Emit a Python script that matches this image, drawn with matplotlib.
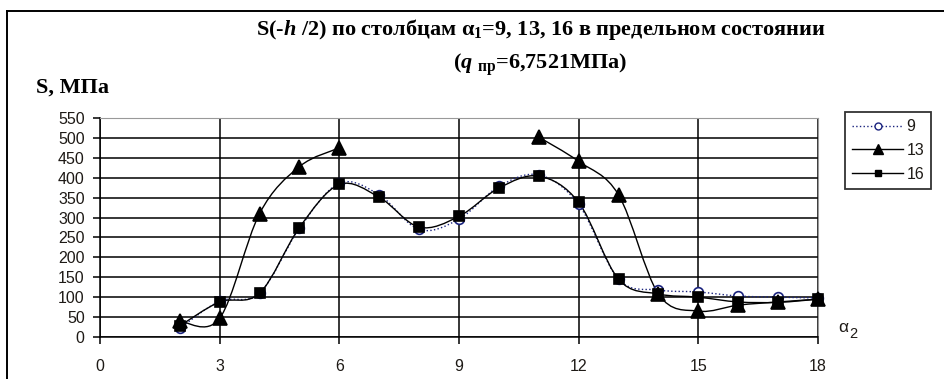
import numpy as np
import matplotlib
matplotlib.use('Agg')
import matplotlib.pyplot as plt
from matplotlib.path import Path
from matplotlib.patches import PathPatch
from matplotlib.lines import Line2D

# column alpha_2 positions and stress values S(-h/2), MPa, for alpha_1 = 9, 13, 16
alpha2 = [2, 3, 4, 5, 6, 7, 8, 9, 10, 11, 12, 13, 14, 15, 16, 17, 18]
s_col9 = [22, 90, 110, 273, 386, 357, 270, 296, 378, 407, 333, 145, 118, 113, 103, 100, 98]
s_col13 = [40, 47, 310, 428, 475, None, None, None, None, 502, 441, 357, 108, 65, 80, 88, 95]
s_col16 = [28, 88, 110, 275, 383, 351, 276, 303, 374, 404, 338, 145, 108, 100, 88, 87, 95]

xticks = [0, 3, 6, 9, 12, 15, 18]
yticks = list(range(0, 551, 50))

plt.rcParams['mathtext.fontset'] = 'custom'
plt.rcParams['mathtext.rm'] = 'Liberation Serif:bold'
plt.rcParams['mathtext.it'] = 'Liberation Serif:italic:bold'
plt.rcParams['mathtext.bf'] = 'Liberation Serif:bold'

serif = ['Liberation Serif', 'DejaVu Serif']
sans = ['Liberation Sans', 'DejaVu Sans']
lblcol = '#1e1a16'


def smooth_path(xs, ys):
    # split into runs without gaps and join each run with cubic Bezier pieces
    verts, codes = [], []
    runs, cur = [], []
    for x, y in zip(xs, ys):
        if y is None:
            if cur:
                runs.append(cur)
            cur = []
        else:
            cur.append((x, y))
    if cur:
        runs.append(cur)
    for run in runs:
        p = np.array(run, dtype=float)
        n = len(p)
        verts.append(p[0]); codes.append(Path.MOVETO)
        for i in range(n - 1):
            p0 = p[i - 1] if i > 0 else p[i]
            p3 = p[i + 2] if i + 2 < n else p[i + 1]
            c1 = p[i] + (p[i + 1] - p0) / 6.0
            c2 = p[i + 1] - (p3 - p[i]) / 6.0
            verts += [c1, c2, p[i + 1]]
            codes += [Path.CURVE4] * 3
    return Path(verts, codes)


fig = plt.figure(figsize=(9.45, 3.79), dpi=100)
# chart area border (left and top edges only fall inside the image)
fx, fy = 7.5 / 945, 1 - 11 / 379
fig.add_artist(Line2D([fx, fx], [0, fy], transform=fig.transFigure, color='black', linewidth=1.4))
fig.add_artist(Line2D([fx, 1], [fy, fy], transform=fig.transFigure, color='black', linewidth=1.4))

ax = fig.add_axes([100 / 945, 42 / 379, 718 / 945, 219 / 379])
ax.set_xlim(0, 18)
ax.set_ylim(0, 550)
ax.set_xticks(xticks)
ax.set_yticks(yticks)
ax.grid(True, color='black', linewidth=1.1)
ax.set_axisbelow(True)
for side in ['top', 'right']:
    ax.spines[side].set_color('#999999')
ax.spines['left'].set_linewidth(1.1)
ax.spines['bottom'].set_linewidth(1.1)
ax.tick_params(direction='out', length=5, width=1.1, labelsize=11.5, labelcolor=lblcol)
ax.tick_params(axis='y', pad=6)
ax.tick_params(axis='x', pad=11)
for t in ax.get_xticklabels() + ax.get_yticklabels():
    t.set_family(sans)

navy = '#1a237e'
series = [
    (s_col9, navy, ':', 'o', 7, 'white', '9'),
    (s_col13, 'black', '-', '^', 9.5, 'black', '13'),
    (s_col16, 'black', '-', 's', 7, 'black', '16'),
]
handles = []
for ys, col, ls, mk, ms, fc, lab in series:
    ax.add_patch(PathPatch(smooth_path(alpha2, ys), facecolor='none', edgecolor=col,
                           linestyle=ls, linewidth=1.0, zorder=3))
    xs = [x for x, y in zip(alpha2, ys) if y is not None]
    yv = [y for y in ys if y is not None]
    ax.plot(xs, yv, linestyle='none', marker=mk, markersize=ms, markerfacecolor=fc,
            markeredgecolor=col, markeredgewidth=1.2, zorder=4, clip_on=False)
    handles.append(Line2D([], [], color=col, linestyle=ls, linewidth=1.0, marker=mk,
                          markersize=ms - 2, markerfacecolor=fc, markeredgecolor=col, label=lab))

leg = fig.legend(handles=handles, loc='upper left', bbox_to_anchor=(845 / 945, 1 - 112 / 379),
                 borderaxespad=0, frameon=True, fancybox=False, edgecolor='black',
                 handlelength=3.2, fontsize=11.5, borderpad=0.45, labelspacing=0.55,
                 handletextpad=0.2)
leg.get_frame().set_linewidth(1.3)
for t in leg.get_texts():
    t.set_color(lblcol)
    t.set_family(sans)

fig.text(541 / 945, 1 - 30 / 379,
         r'S(-$\it{h}$ /2) по столбцам $\mathbf{\alpha}_1$=9, 13, 16 в предельном состоянии',
         ha='center', va='center', fontsize=16, fontweight='bold', family=serif)
fig.text(540 / 945, 1 - 65 / 379, r'($\it{q}$ $_{\mathrm{пр}}$=6,7521МПа)',
         ha='center', va='center', fontsize=16, fontweight='bold', family=serif)
fig.text(36 / 945, 1 - 88 / 379, 'S, МПа', ha='left', va='center', fontsize=16,
         fontweight='bold', family=serif)
# x axis name: alpha with a lowered 2
fig.text(838 / 945, 1 - 328 / 379, 'α', ha='left', va='center', fontsize=12.5,
         color=lblcol, family=sans)
fig.text(849 / 945, 1 - 334 / 379, '2', ha='left', va='center', fontsize=10.5,
         color=lblcol, family=sans)

fig.savefig('out.png', dpi=100)
